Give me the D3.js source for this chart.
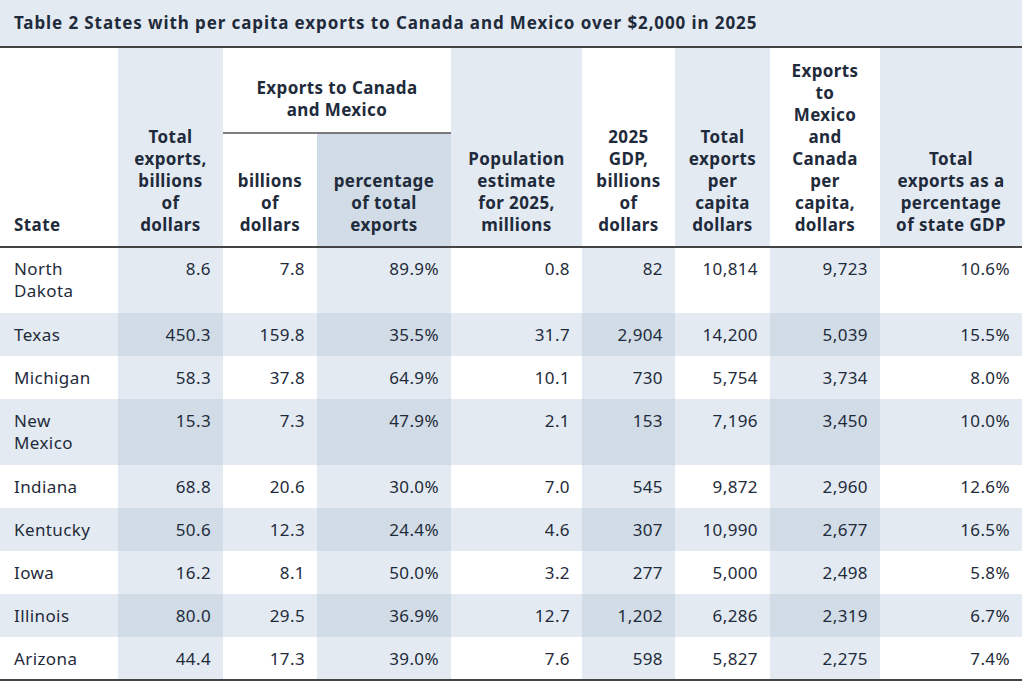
<!DOCTYPE html>
<html>
<head>
<meta charset="utf-8">
<script src="https://cdn.jsdelivr.net/npm/d3@7"></script>
<style>
  body { margin: 0; background: #fff; }
  svg { display: block; font-family: "Noto Sans", "Open Sans", sans-serif; letter-spacing: 0.4px; }
</style>
</head>
<body>
<svg id="chart" width="1024" height="687"></svg>
<script>
// DATA
var title = 'Table 2 States with per capita exports to Canada and Mexico over $2,000 in 2025';
var states = [['North', 'Dakota'], ['Texas'], ['Michigan'], ['New', 'Mexico'], ['Indiana'], ['Kentucky'], ['Iowa'], ['Illinois'], ['Arizona']];
var totalExports = [8.6, 450.3, 58.3, 15.3, 68.8, 50.6, 16.2, 80.0, 44.4];
var cmExports = [7.8, 159.8, 37.8, 7.3, 20.6, 12.3, 8.1, 29.5, 17.3];
var cmPct = [89.9, 35.5, 64.9, 47.9, 30.0, 24.4, 50.0, 36.9, 39.0];
var population = [0.8, 31.7, 10.1, 2.1, 7.0, 4.6, 3.2, 12.7, 7.6];
var gdp = [82, 2904, 730, 153, 545, 307, 277, 1202, 598];
var perCapita = [10814, 14200, 5754, 7196, 9872, 10990, 5000, 6286, 5827];
var cmPerCapita = [9723, 5039, 3734, 3450, 2960, 2677, 2498, 2319, 2275];
var pctGdp = [10.6, 15.5, 8.0, 10.0, 12.6, 16.5, 5.8, 6.7, 7.4];
var headers = [
  ['State'],
  ['Total', 'exports,', 'billions', 'of', 'dollars'],
  ['billions', 'of', 'dollars'],
  ['percentage', 'of total', 'exports'],
  ['Population', 'estimate', 'for 2025,', 'millions'],
  ['2025', 'GDP,', 'billions', 'of', 'dollars'],
  ['Total', 'exports', 'per', 'capita', 'dollars'],
  ['Exports', 'to', 'Mexico', 'and', 'Canada', 'per', 'capita,', 'dollars'],
  ['Total', 'exports as a', 'percentage', 'of state GDP']
];
var groupHeader = ['Exports to Canada', 'and Mexico'];

// LAYOUT
var colEdges = [0, 118, 223, 317, 451, 582, 675, 770, 880, 1022];
var light = '#e3eaf2', dark = '#d1dce6', ink = '#1f2b3b';
var headTop = 47, headBottom = 247, groupLine = 133;
var lineH = 22, fs = 17;

var svg = d3.select('#chart');
var x = d3.scaleOrdinal().domain(d3.range(10)).range(colEdges);

var f1 = d3.format('.1f'), fc = d3.format(',');
var cols = [totalExports.map(f1), cmExports.map(f1), cmPct.map(function (d) { return f1(d) + '%'; }),
  population.map(f1), gdp.map(fc), perCapita.map(fc), cmPerCapita.map(fc), pctGdp.map(function (d) { return f1(d) + '%'; })];

// row positions from line counts
var rowH = states.map(function (s) { return s.length > 1 ? 66 : 43; });
var rowTops = [headBottom];
rowH.forEach(function (h, i) { rowTops.push(rowTops[i] + h); });
var y = d3.scaleOrdinal().domain(d3.range(rowTops.length)).range(rowTops);

// title bar
svg.append('rect').attr('x', 0).attr('y', 0).attr('width', 1022).attr('height', headTop).attr('fill', light);
svg.append('text').attr('x', 14).attr('y', 29).attr('fill', ink).attr('letter-spacing', 0.9)
  .attr('font-size', 17).attr('font-weight', 700).text(title);

// header shading
var headShade = [1, 3, 4, 6, 8];
headShade.forEach(function (c) {
  var top = c === 3 ? groupLine : headTop;
  svg.append('rect').attr('x', x(c)).attr('y', top).attr('width', x(c + 1) - x(c))
    .attr('height', headBottom - top).attr('fill', c === 3 ? dark : light);
});

// body shading
var bodyShadeCols = [1, 3, 5, 7];
states.forEach(function (s, r) {
  var shadedRow = r % 2 === 1;
  if (shadedRow) {
    svg.append('rect').attr('x', 0).attr('y', y(r)).attr('width', 1022).attr('height', rowH[r]).attr('fill', light);
  }
  bodyShadeCols.forEach(function (c) {
    svg.append('rect').attr('x', x(c)).attr('y', y(r)).attr('width', x(c + 1) - x(c))
      .attr('height', rowH[r]).attr('fill', shadedRow ? dark : light);
  });
});

// header text
headers.forEach(function (lines, c) {
  var n = lines.length;
  var cx = c === 0 ? 14 : (x(c) + x(c + 1)) / 2;
  lines.forEach(function (l, i) {
    svg.append('text').attr('x', cx).attr('y', 231 - (n - 1 - i) * lineH)
      .attr('text-anchor', c === 0 ? 'start' : 'middle')
      .attr('fill', ink).attr('font-size', fs).attr('font-weight', 700).text(l);
  });
});
groupHeader.forEach(function (l, i) {
  svg.append('text').attr('x', (x(2) + x(4)) / 2).attr('y', 94 + i * lineH)
    .attr('text-anchor', 'middle').attr('fill', ink).attr('font-size', fs).attr('font-weight', 700).text(l);
});
svg.append('line').attr('x1', x(2)).attr('x2', x(4)).attr('y1', groupLine).attr('y2', groupLine)
  .attr('stroke', '#555').attr('stroke-width', 1.5);

// body text
states.forEach(function (s, r) {
  s.forEach(function (l, i) {
    svg.append('text').attr('x', 14).attr('y', y(r) + 28 + i * lineH)
      .attr('fill', ink).attr('font-size', fs).text(l);
  });
  cols.forEach(function (vals, c) {
    svg.append('text').attr('x', x(c + 2) - 12).attr('y', y(r) + 28)
      .attr('text-anchor', 'end').attr('fill', ink).attr('font-size', fs).text(vals[r]);
  });
});

// rules
[headTop, headBottom, y(states.length)].forEach(function (yy) {
  svg.append('line').attr('x1', 0).attr('x2', 1022).attr('y1', yy).attr('y2', yy)
    .attr('stroke', '#444').attr('stroke-width', 2);
});
</script>
</body>
</html>
